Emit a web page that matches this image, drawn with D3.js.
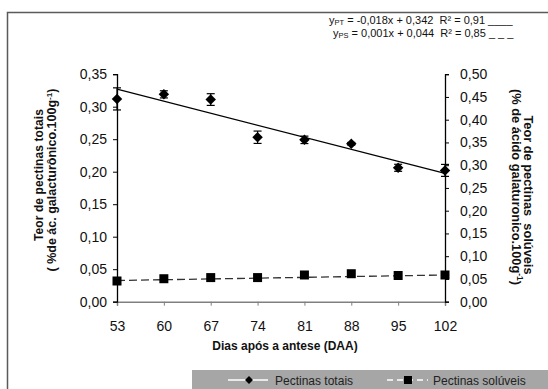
<!DOCTYPE html>
<html><head><meta charset="utf-8">
<script src="https://cdn.jsdelivr.net/npm/d3@7"></script>
<style>body{margin:0;background:#fff}svg{display:block;font-family:Arial,"Liberation Sans",sans-serif}text{white-space:pre}</style>
</head><body><svg id="c" width="548" height="389"></svg>
<script>
const days = [53, 60, 67, 74, 81, 88, 95, 102];
const totais = [0.312, 0.319, 0.311, 0.253, 0.249, 0.243, 0.206, 0.202];
const totaisErr = [0.017, 0.0055, 0.009, 0.0095, 0.0057, 0.002, 0.0054, 0.0092];
const soluveis = [0.0455, 0.0505, 0.053, 0.053, 0.0587, 0.0615, 0.0576, 0.0587];
const trendTotais = [0.327, 0.1975];   // at first and last day
const trendSoluveis = [0.0466, 0.0587];
const leftTicks = [0, 0.05, 0.10, 0.15, 0.20, 0.25, 0.30, 0.35];
const rightTicks = [0, 0.05, 0.10, 0.15, 0.20, 0.25, 0.30, 0.35, 0.40, 0.45, 0.50];

const svg = d3.select("#c");
const fmt = v => d3.format(".2f")(v).replace(".", ",");
const L = 117, R = 445, T = 74.2, B = 301.7;
const x = d3.scaleLinear().domain([53, 102]).range([L, R]);
const yL = d3.scaleLinear().domain([0, 0.35]).range([B, T]);
const yR = d3.scaleLinear().domain([0, 0.5]).range([B, T]);

// frame
svg.append("path").attr("d", `M7.5,389 V12.5 H548`).attr("fill", "none").attr("stroke", "#5a5a5a").attr("stroke-width", 1.5);

// axes
const ax = svg.append("g").attr("transform", `translate(0,${B})`)
  .call(d3.axisBottom(x).tickValues(days).tickSize(4).tickPadding(15).tickFormat(d3.format("d")));
ax.select(".domain").attr("stroke", "#808080").attr("stroke-width", 1.5);
ax.selectAll(".tick line").attr("stroke", "#808080");
const al = svg.append("g").attr("transform", `translate(${L},0)`)
  .call(d3.axisLeft(yL).tickValues(leftTicks).tickSize(4).tickPadding(6).tickFormat(fmt));
const ar = svg.append("g").attr("transform", `translate(${R},0)`)
  .call(d3.axisRight(yR).tickValues(rightTicks).tickSize(4).tickPadding(11).tickFormat(fmt));
[al, ar].forEach(g => { g.select(".domain").attr("stroke", "#000").attr("stroke-width", 1.3); g.selectAll(".tick line").attr("stroke", "#000"); });
svg.selectAll(".tick text").attr("font-size", 14).attr("font-family", "Arial").attr("fill", "#111");

// trend lines
svg.append("line").attr("x1", x(days[0])).attr("x2", x(days[days.length-1]))
  .attr("y1", yL(trendTotais[0])).attr("y2", yL(trendTotais[1])).attr("stroke", "#000").attr("stroke-width", 1.2);
svg.append("line").attr("x1", x(days[0])).attr("x2", x(days[days.length-1]))
  .attr("y1", yR(trendSoluveis[0])).attr("y2", yR(trendSoluveis[1])).attr("stroke", "#333").attr("stroke-width", 1.3).attr("stroke-dasharray", "8,4");

// error bars
const eb = svg.append("g").attr("stroke", "#000").attr("stroke-width", 1.2);
days.forEach((d, i) => {
  const y1 = yL(totais[i] + totaisErr[i]), y2 = yL(totais[i] - totaisErr[i]);
  eb.append("line").attr("x1", x(d)).attr("x2", x(d)).attr("y1", y1).attr("y2", y2);
  eb.append("line").attr("x1", x(d) - 4).attr("x2", x(d) + 4).attr("y1", y1).attr("y2", y1);
  eb.append("line").attr("x1", x(d) - 4).attr("x2", x(d) + 4).attr("y1", y2).attr("y2", y2);
});
// diamonds
svg.append("g").selectAll("path").data(days).join("path")
  .attr("d", d3.symbol(d3.symbolDiamond2 || d3.symbolDiamond, 70)())
  .attr("transform", (d, i) => `translate(${x(d)},${yL(totais[i])})`).attr("fill", "#000");
// squares
svg.append("g").selectAll("rect").data(days).join("rect")
  .attr("x", d => x(d) - 4.5).attr("width", 9).attr("height", 9)
  .attr("y", (d, i) => yR(soluveis[i]) - 4.5).attr("fill", "#000");

// axis titles
function vline(cx, cy, rot, parts, size, len) {
  const t = svg.append("text").attr("transform", `translate(${cx},${cy}) rotate(${rot})`)
    .attr("text-anchor", "middle").attr("font-weight", "bold").attr("font-size", size).attr("fill", "#111");
  if (len) t.attr("textLength", len).attr("lengthAdjust", "spacing");
  parts.forEach(p => { const s = t.append("tspan").text(p[0]); if (p[1]) s.attr("baseline-shift", "super").attr("font-size", size * 0.65); });
}
vline(43, 175, -90, [["Teor de pectinas totais"]], 12, 132);
vline(55.5, 180, -90, [["( %de ác. galacturônico.100g"], ["-1", 1], [")"]], 12.5);
vline(524, 195, 90, [["Teor de pectinas  solúveis"]], 12.8);
vline(511.5, 187, 90, [["(% de ácido galaturonico.100g"], ["-1", 1], [")"]], 12.8);
svg.append("text").attr("x", 285).attr("y", 350).attr("text-anchor", "middle").attr("font-weight", "bold")
  .attr("font-size", 12).attr("fill", "#111").text("Dias após a antese (DAA)");

// equations
function eq(xp, yp, sub, body, tail) {
  const t = svg.append("text").attr("x", xp).attr("y", yp).attr("font-size", 11).attr("fill", "#111");
  t.append("tspan").text("y");
  t.append("tspan").text(sub).attr("font-size", 7.5).attr("dy", 1.2);
  t.append("tspan").text(body).attr("dy", -1.2);
  t.append("tspan").text(tail);
}
eq(329, 24, "PT", " = -0,018x + 0,342  R² = 0,91 ", "____");
eq(333, 37, "PS", " = 0,001x + 0,044  R² = 0,85 ", "_ _ _");

// legend
svg.append("rect").attr("x", 192).attr("y", 370).attr("width", 356).attr("height", 19).attr("fill", "#a6a6a6");
const ly = 380;
svg.append("line").attr("x1", 228).attr("x2", 268).attr("y1", ly).attr("y2", ly).attr("stroke", "#fff").attr("stroke-width", 1.3);
svg.append("path").attr("d", d3.symbol(d3.symbolDiamond2 || d3.symbolDiamond, 40)()).attr("transform", `translate(249,${ly})`).attr("fill", "#000");
svg.append("text").attr("x", 275).attr("y", ly + 4.5).attr("font-size", 12).attr("fill", "#222").text("Pectinas totais");
svg.append("line").attr("x1", 387).attr("x2", 428).attr("y1", ly).attr("y2", ly).attr("stroke", "#fff").attr("stroke-width", 1.3).attr("stroke-dasharray", "6,4");
svg.append("rect").attr("x", 404).attr("y", ly - 4).attr("width", 8).attr("height", 8).attr("fill", "#000");
svg.append("text").attr("x", 433).attr("y", ly + 4.5).attr("font-size", 12).attr("fill", "#222").text("Pectinas solúveis");
</script></body></html>
